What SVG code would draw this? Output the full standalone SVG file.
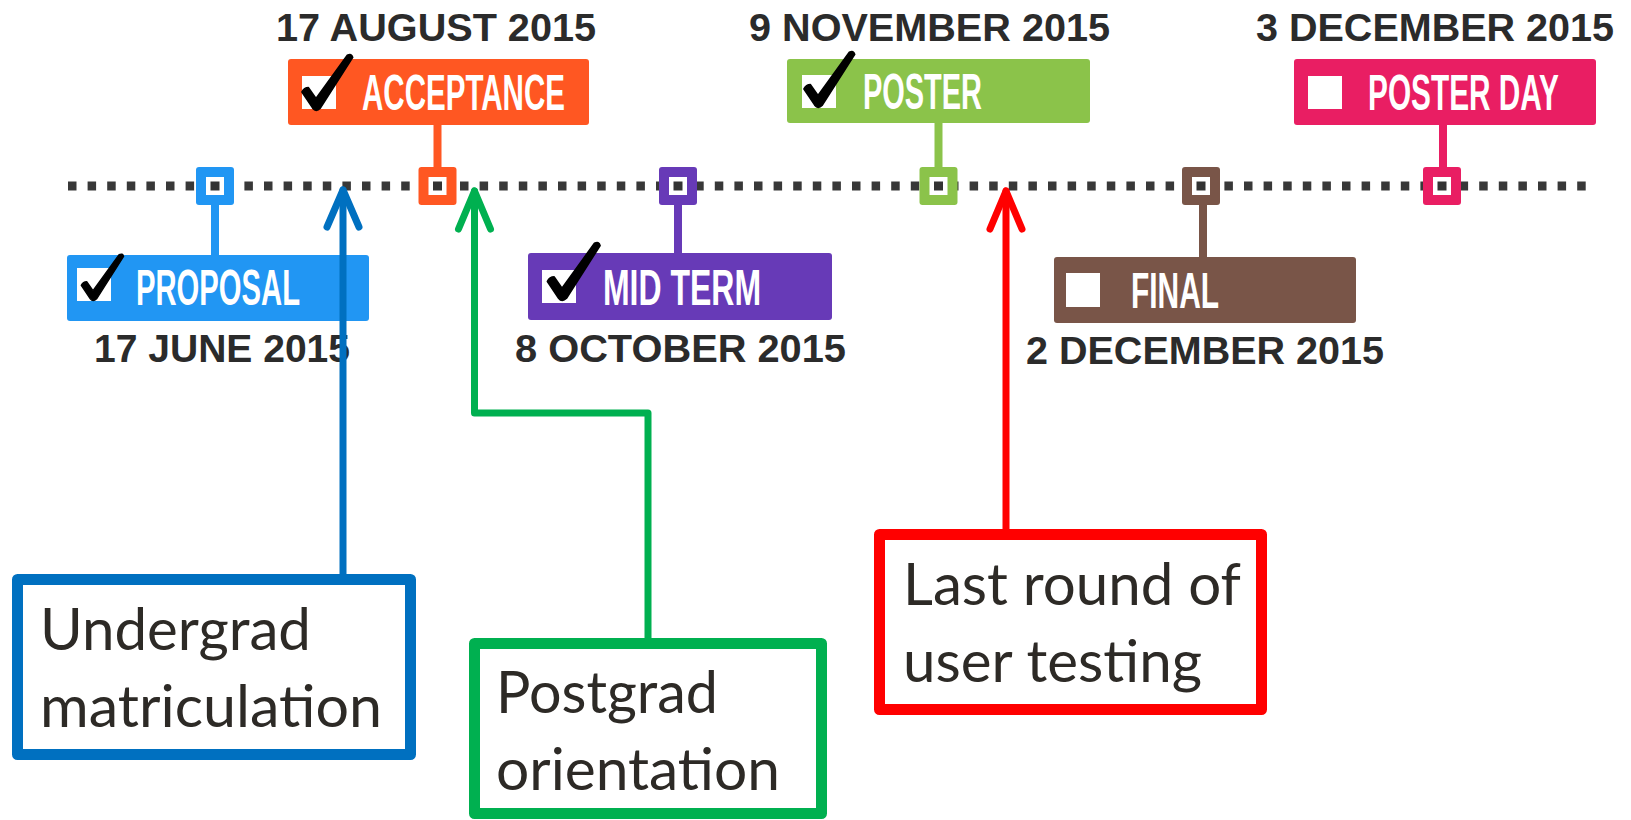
<svg xmlns="http://www.w3.org/2000/svg" xmlns:xlink="http://www.w3.org/1999/xlink" width="1631" height="820" viewBox="0 0 1631 820">
<style>
.date{font-family:"Liberation Sans",Arial,sans-serif;font-weight:bold;font-size:38px;fill:#2b2b2b}
.lbl{font-family:"Liberation Sans Narrow","Liberation Sans",Arial,sans-serif;font-weight:bold;font-size:30px;fill:#ffffff}
.note{font-family:Lato,"Noto Sans",sans-serif;font-size:58px;fill:#2d2a26}
.cb{fill:#ffffff}
.inner{fill:#ffffff}
.dot{fill:#333333}
.conn{fill:none;stroke-width:7;stroke-linecap:round;stroke-linejoin:round}
.abox{fill:#ffffff;stroke-width:11;stroke-linejoin:round}
</style>
<defs>
<path id="check" d="M -13,-13 Q -11,-17 -7,-17 L 0,-7 L 29,-47 Q 33,-49 34,-45 L 4,2 Q 0,6 -3,2 Z" fill="#000000" stroke="#000000" stroke-width="1.5" stroke-linejoin="round"/>
<marker id="ab" viewBox="-42 -22 48 44" refX="0" refY="0" markerWidth="48" markerHeight="44" markerUnits="userSpaceOnUse" orient="auto">
<path d="M -37 -16 L 0 0 L -37 16" fill="none" stroke="#0070C0" stroke-width="7" stroke-linecap="round" stroke-linejoin="round"/>
</marker>
<marker id="ag" viewBox="-42 -22 48 44" refX="0" refY="0" markerWidth="48" markerHeight="44" markerUnits="userSpaceOnUse" orient="auto">
<path d="M -38 -16 L 0 0 L -38 16" fill="none" stroke="#00B050" stroke-width="7" stroke-linecap="round" stroke-linejoin="round"/>
</marker>
<marker id="ar" viewBox="-42 -22 48 44" refX="0" refY="0" markerWidth="48" markerHeight="44" markerUnits="userSpaceOnUse" orient="auto">
<path d="M -38 -16 L 0 0 L -38 16" fill="none" stroke="#FF0000" stroke-width="7" stroke-linecap="round" stroke-linejoin="round"/>
</marker>
</defs>
<rect width="1631" height="820" fill="#ffffff"/>

<g id="timeline">
<line x1="68" y1="186" x2="1590" y2="186" stroke="#383838" stroke-width="9" stroke-dasharray="8.5 11.1"/>
</g>

<g id="proposal">
<rect x="211" y="200" width="8" height="58" fill="#2196F3"/>
<rect x="196" y="167" width="38" height="38" rx="3" fill="#2196F3"/>
<rect class="inner" x="206" y="177" width="18" height="18"/>
<rect class="dot" x="210.5" y="181.5" width="9" height="9"/>
<rect x="67" y="255" width="302" height="66" rx="3" fill="#2196F3"/>
<rect class="cb" x="77" y="268" width="34" height="33"/>
<use xlink:href="#check" transform="translate(93,297) scale(0.9)"/>
<text class="lbl" transform="translate(136,305) scale(1,1.667)" x="0" y="0" textLength="164" lengthAdjust="spacingAndGlyphs">PROPOSAL</text>
<text class="date" x="94" y="362" textLength="256" lengthAdjust="spacingAndGlyphs">17 JUNE 2015</text>
</g>

<g id="acceptance">
<rect x="433.5" y="120" width="8" height="52" fill="#FF5722"/>
<rect x="418.5" y="167" width="38" height="38" rx="3" fill="#FF5722"/>
<rect class="inner" x="428.5" y="177" width="18" height="18"/>
<rect class="dot" x="433" y="181.5" width="9" height="9"/>
<rect x="288" y="59" width="301" height="66" rx="3" fill="#FF5722"/>
<rect class="cb" x="302" y="76" width="34" height="33"/>
<use xlink:href="#check" transform="translate(316,106) scale(1.08)"/>
<text class="lbl" transform="translate(362,110) scale(1,1.667)" x="0" y="0" textLength="203" lengthAdjust="spacingAndGlyphs">ACCEPTANCE</text>
<text class="date" x="276" y="41" textLength="320" lengthAdjust="spacingAndGlyphs">17 AUGUST 2015</text>
</g>

<g id="midterm">
<rect x="674" y="200" width="8" height="58" fill="#673AB7"/>
<rect x="659" y="167" width="38" height="38" rx="3" fill="#673AB7"/>
<rect class="inner" x="669" y="177" width="18" height="18"/>
<rect class="dot" x="673.5" y="181.5" width="9" height="9"/>
<rect x="528" y="253" width="304" height="67" rx="3" fill="#673AB7"/>
<rect class="cb" x="542" y="270" width="34" height="33"/>
<use xlink:href="#check" transform="translate(562,296) scale(1.12)"/>
<text class="lbl" transform="translate(603,305) scale(1,1.667)" x="0" y="0" textLength="158" lengthAdjust="spacingAndGlyphs">MID TERM</text>
<text class="date" x="515" y="362" textLength="331" lengthAdjust="spacingAndGlyphs">8 OCTOBER 2015</text>
</g>

<g id="poster">
<rect x="934.5" y="118" width="8" height="54" fill="#8BC34A"/>
<rect x="919.5" y="167" width="38" height="38" rx="3" fill="#8BC34A"/>
<rect class="inner" x="929.5" y="177" width="18" height="18"/>
<rect class="dot" x="934" y="181.5" width="9" height="9"/>
<rect x="787" y="59" width="303" height="64" rx="3" fill="#8BC34A"/>
<rect class="cb" x="802" y="75" width="34" height="33"/>
<use xlink:href="#check" transform="translate(818,103) scale(1.08)"/>
<text class="lbl" transform="translate(863,109) scale(1,1.667)" x="0" y="0" textLength="119" lengthAdjust="spacingAndGlyphs">POSTER</text>
<text class="date" x="749" y="41" textLength="361" lengthAdjust="spacingAndGlyphs">9 NOVEMBER 2015</text>
</g>

<g id="final">
<rect x="1199" y="200" width="8" height="60" fill="#795548"/>
<rect x="1182" y="167" width="38" height="38" rx="3" fill="#795548"/>
<rect class="inner" x="1192" y="177" width="18" height="18"/>
<rect class="dot" x="1196.5" y="181.5" width="9" height="9"/>
<rect x="1054" y="257" width="302" height="66" rx="3" fill="#795548"/>
<rect class="cb" x="1066" y="273" width="34" height="34"/>
<text class="lbl" transform="translate(1131,308) scale(1,1.667)" x="0" y="0" textLength="88" lengthAdjust="spacingAndGlyphs">FINAL</text>
<text class="date" x="1026" y="364" textLength="358" lengthAdjust="spacingAndGlyphs">2 DECEMBER 2015</text>
</g>

<g id="posterday">
<rect x="1439" y="120" width="8" height="52" fill="#E91E63"/>
<rect x="1423" y="167" width="38" height="38" rx="3" fill="#E91E63"/>
<rect class="inner" x="1433" y="177" width="18" height="18"/>
<rect class="dot" x="1437.5" y="181.5" width="9" height="9"/>
<rect x="1294" y="59" width="302" height="66" rx="3" fill="#E91E63"/>
<rect class="cb" x="1308" y="76" width="34" height="33"/>
<text class="lbl" transform="translate(1368,110) scale(1,1.667)" x="0" y="0" textLength="191" lengthAdjust="spacingAndGlyphs">POSTER DAY</text>
<text class="date" x="1256" y="41" textLength="358" lengthAdjust="spacingAndGlyphs">3 DECEMBER 2015</text>
</g>

<g id="connectors">
<path class="conn" d="M 343 574 L 343 190" stroke="#0070C0" marker-end="url(#ab)"/>
<path class="conn" d="M 648 638 L 648 413 L 474.5 413 L 474.5 191" stroke="#00B050" marker-end="url(#ag)"/>
<path class="conn" d="M 1006 529 L 1006 191" stroke="#FF0000" marker-end="url(#ar)"/>
</g>

<g id="undergrad">
<rect class="abox" x="17.5" y="579.5" width="393" height="175" stroke="#0070C0"/>
<text class="note" x="40" y="650" textLength="271" lengthAdjust="spacingAndGlyphs">Undergrad</text>
<text class="note" x="40" y="727" textLength="342" lengthAdjust="spacingAndGlyphs">matriculation</text>
</g>

<g id="postgrad">
<rect class="abox" x="474.5" y="643.5" width="347" height="170" stroke="#00B050"/>
<text class="note" x="496" y="713" textLength="222" lengthAdjust="spacingAndGlyphs">Postgrad</text>
<text class="note" x="496" y="790" textLength="284" lengthAdjust="spacingAndGlyphs">orientation</text>
</g>

<g id="lastround">
<rect class="abox" x="879.5" y="534.5" width="382" height="175" stroke="#FF0000"/>
<text class="note" x="903" y="605" textLength="338" lengthAdjust="spacingAndGlyphs">Last round of</text>
<text class="note" x="903" y="682" textLength="299" lengthAdjust="spacingAndGlyphs">user testing</text>
</g>
</svg>
